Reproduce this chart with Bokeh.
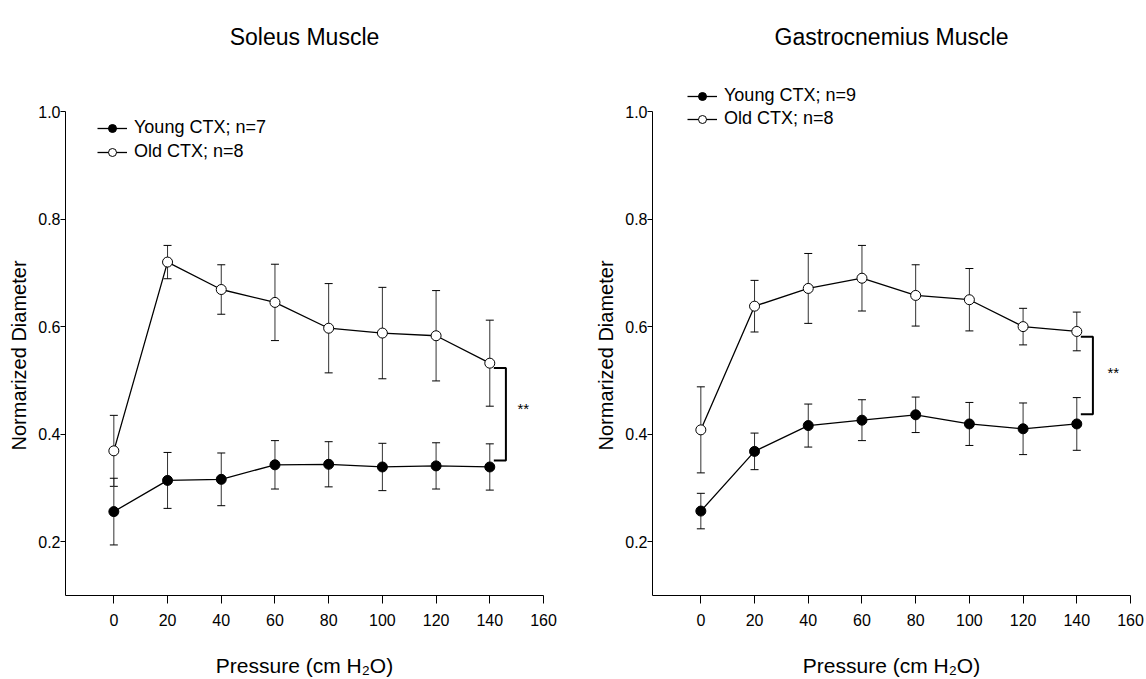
from bokeh.plotting import figure
from bokeh.models import (Range1d, FixedTicker, NumeralTickFormatter, Whisker, TeeHead,
                          ColumnDataSource, Legend, LegendItem, Label, Title)
from bokeh.layouts import row
from bokeh.embed import file_html
from bokeh.resources import INLINE

# ---------------- data ----------------
pressure = [0, 20, 40, 60, 80, 100, 120, 140]
x_ticks = [0, 20, 40, 60, 80, 100, 120, 140, 160]
y_ticks = [0.2, 0.4, 0.6, 0.8, 1.0]

soleus_young = [0.256, 0.314, 0.316, 0.343, 0.344, 0.339, 0.341, 0.339]
soleus_young_sem = [0.062, 0.052, 0.049, 0.045, 0.042, 0.044, 0.043, 0.043]
soleus_old = [0.369, 0.720, 0.669, 0.645, 0.597, 0.588, 0.583, 0.532]
soleus_old_sem = [0.066, 0.031, 0.046, 0.071, 0.083, 0.085, 0.084, 0.080]

gastro_young = [0.257, 0.368, 0.416, 0.426, 0.436, 0.419, 0.410, 0.419]
gastro_young_sem = [0.033, 0.034, 0.040, 0.038, 0.033, 0.040, 0.048, 0.049]
gastro_old = [0.408, 0.638, 0.671, 0.690, 0.658, 0.650, 0.600, 0.591]
gastro_old_sem = [0.080, 0.048, 0.065, 0.061, 0.057, 0.058, 0.034, 0.036]

titles = ["Soleus Muscle", "Gastrocnemius Muscle"]
young_labels = ["Young CTX; n=7", "Young CTX; n=9"]
old_labels = ["Old CTX; n=8", "Old CTX; n=8"]
y_label = "Normarized Diameter"
x_label = "Pressure (cm H\u2082O)"

# significance brackets: [x_left, x_right], [top, bottom], star position
bracket_x = [[141.5, 146.0], [141.5, 146.0]]
bracket_y = [[0.523, 0.351], [0.581, 0.437]]
star_xy = [[152.5, 0.447], [153.6, 0.515]]
star_text = "**"
title_y = 1.139

x_lo, x_hi = -18, 160
y_lo, y_hi = 0.1, 1.0

FONT = "Liberation Sans"

# layout (pixels)
AXIS_PX = 484      # height of the 0.1..1.0 axis
TOP_PX = 111       # space above the 1.0 tick (kept inside the frame)
y_top = y_hi + TOP_PX * (y_hi - y_lo) / AXIS_PX


def make_panel(idx, young, young_sem, old, old_sem, border_left, border_right,
               legend_loc, legend_spacing):
    p = figure(frame_width=478, frame_height=AXIS_PX + TOP_PX,
               min_border_left=border_left, min_border_right=border_right,
               min_border_top=0, min_border_bottom=84,
               x_range=Range1d(x_lo, x_hi), y_range=Range1d(y_lo, y_top),
               output_backend="svg", toolbar_location=None,
               background_fill_color="white", border_fill_color="white")
    p.outline_line_color = None
    p.xgrid.visible = False
    p.ygrid.visible = False

    # axes
    p.xaxis.ticker = FixedTicker(ticks=x_ticks)
    p.yaxis.ticker = FixedTicker(ticks=y_ticks)
    p.yaxis.bounds = (y_lo, y_hi)
    p.yaxis.formatter = NumeralTickFormatter(format="0.0")
    for ax in (p.xaxis[0], p.yaxis[0]):
        ax.axis_line_color = "black"
        ax.axis_line_width = 1
        ax.major_tick_line_color = "black"
        ax.minor_tick_line_color = None
        ax.major_tick_in = 0
        ax.major_label_text_font = FONT
        ax.major_label_text_font_size = "16px"
        ax.major_label_text_color = "black"
        ax.axis_label_text_font = FONT
        ax.axis_label_text_font_style = "normal"
        ax.axis_label_text_color = "black"
    p.xaxis.major_tick_out = 8
    p.xaxis.major_label_standoff = 10
    p.xaxis.axis_label = x_label
    p.xaxis.axis_label_text_font_size = "21px"
    p.xaxis.axis_label_standoff = 25
    p.yaxis.major_tick_out = 5
    p.yaxis.major_label_standoff = 0

    # y-axis label as a side title, centred on the 0.1..1.0 span
    p.add_layout(Title(text=y_label, align="left", offset=145,
                       vertical_align="middle", text_font=FONT,
                       text_font_size="20px", text_font_style="normal",
                       text_color="black"), "left")

    # lines
    l_old = p.line(pressure, old, line_color="black", line_width=1.3)
    l_young = p.line(pressure, young, line_color="black", line_width=1.3)

    # error bars
    for mean, sem in ((old, old_sem), (young, young_sem)):
        src = ColumnDataSource(dict(
            x=pressure,
            upper=[m + s for m, s in zip(mean, sem)],
            lower=[m - s for m, s in zip(mean, sem)]))
        w = Whisker(source=src, base="x", upper="upper", lower="lower",
                    dimension="height", line_color="#333333", line_width=1,
                    upper_head=TeeHead(size=8, line_color="black", line_width=1),
                    lower_head=TeeHead(size=8, line_color="black", line_width=1))
        p.add_layout(w)

    # markers
    m_old = p.scatter(pressure, old, marker="circle", size=10,
                      fill_color="white", line_color="black", line_width=1)
    m_young = p.scatter(pressure, young, marker="circle", size=10,
                        fill_color="black", line_color="black", line_width=1)

    # bracket
    bx = bracket_x[idx]
    by = bracket_y[idx]
    p.line([bx[0], bx[1], bx[1], bx[0]], [by[0], by[0], by[1], by[1]],
           line_color="black", line_width=2)
    p.add_layout(Label(x=star_xy[idx][0], y=star_xy[idx][1], text=star_text,
                       text_align="center", text_baseline="middle",
                       text_font=FONT, text_font_size="15px", text_color="black"))

    # title
    p.add_layout(Label(x=(x_lo + x_hi) / 2, y=title_y, text=titles[idx],
                       text_align="center", text_baseline="alphabetic",
                       text_font=FONT, text_font_size="23px", text_color="black"))

    legend = Legend(items=[
        LegendItem(label=young_labels[idx], renderers=[l_young, m_young]),
        LegendItem(label=old_labels[idx], renderers=[l_old, m_old]),
    ], location=legend_loc)
    legend.margin = 0
    legend.padding = 0
    legend.spacing = legend_spacing
    legend.border_line_color = None
    legend.background_fill_alpha = 0
    legend.glyph_width = 30
    legend.glyph_height = 20
    legend.label_height = 20
    legend.label_standoff = 7
    legend.label_text_font = FONT
    legend.label_text_font_size = "18px"
    legend.label_text_color = "black"
    p.add_layout(legend)
    return p


p1 = make_panel(0, soleus_young, soleus_young_sem, soleus_old, soleus_old_sem,
                65, 30, (32, 433), 3)
p2 = make_panel(1, gastro_young, gastro_young_sem, gastro_old, gastro_old_sem,
                79, 16, (35, 466), 2)

layout = row(p1, p2)
open("out.html", "w").write(file_html(layout, INLINE))
